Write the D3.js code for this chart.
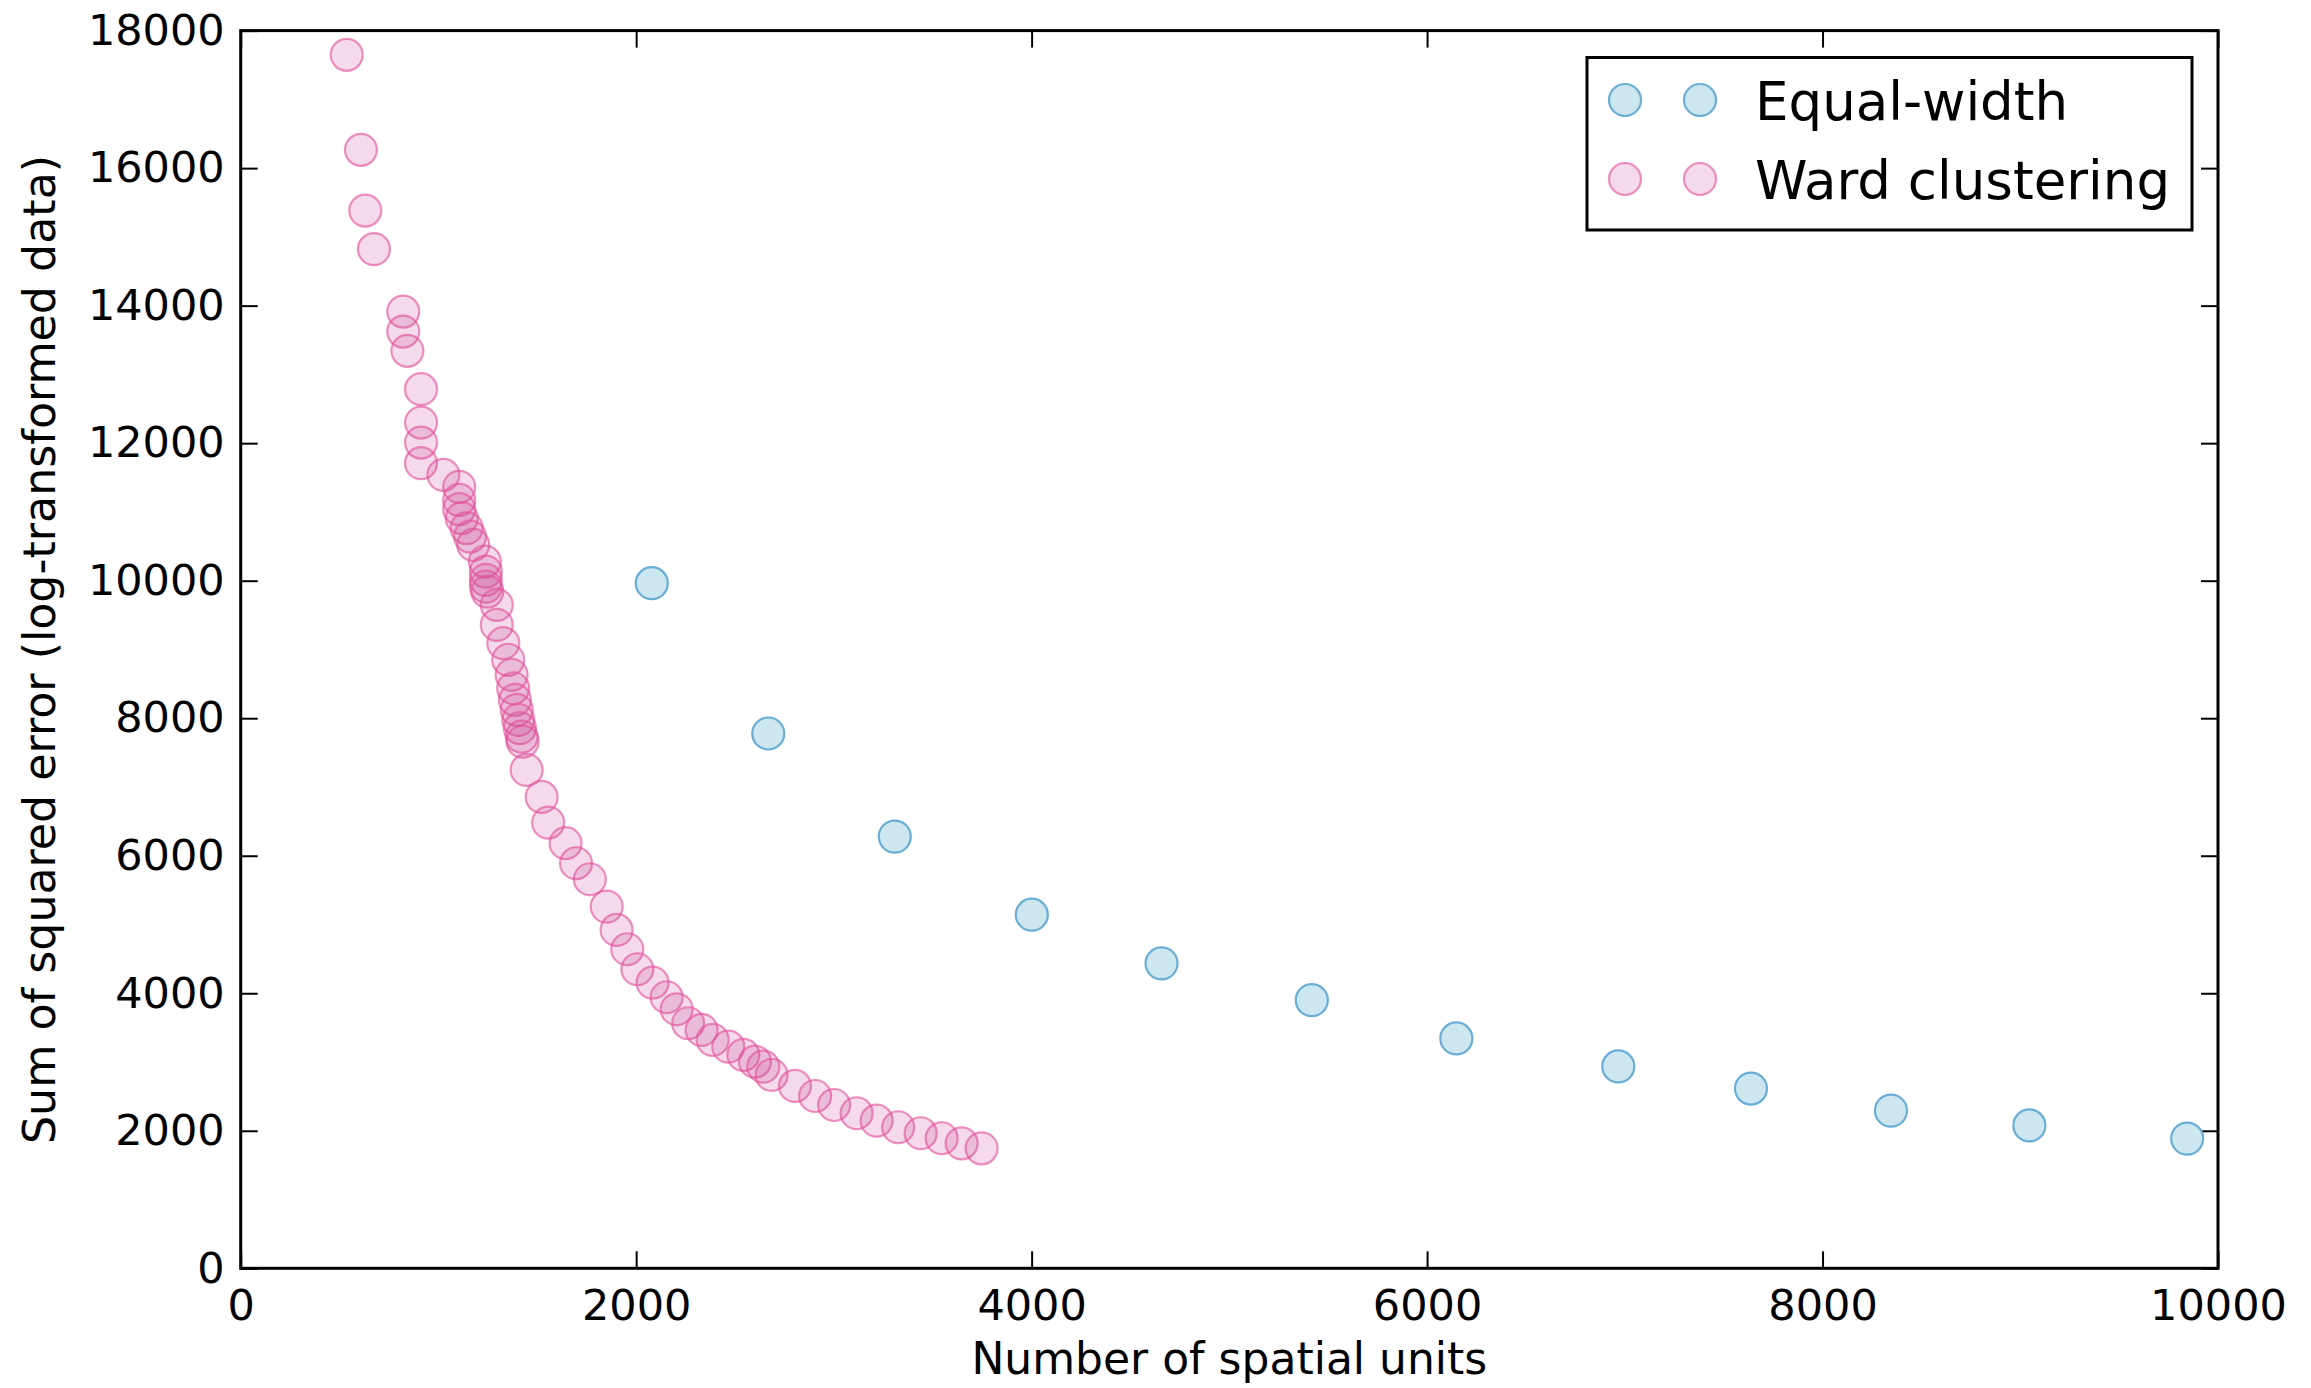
<!DOCTYPE html>
<html>
<head>
<meta charset="utf-8">
<script src="https://cdn.jsdelivr.net/npm/d3@7"></script>
<style>
  html, body { margin: 0; padding: 0; background: #fff; }
  svg { display: block; }
  text { font-family: "DejaVu Sans", sans-serif; fill: #000; }
</style>
</head>
<body>
<svg id="chart" width="2311" height="1388"></svg>
<script>
// Equal-width partitioning: number of units vs SSE
const equalUnits = [2079, 2668, 3308, 4001, 4657, 5417, 6148, 6967, 7638, 8346, 9046, 9844];
const equalSSE   = [9964, 7778, 6278, 5143, 4435, 3900, 3343, 2936, 2614, 2293, 2078, 1886];

// Ward clustering: number of units vs SSE
const wardUnits = [536, 608, 630, 674, 822, 822, 843, 912, 912, 912, 912, 1025,
  1105, 1105, 1105, 1118, 1143, 1160, 1176, 1235, 1240, 1240, 1240, 1247,
  1295, 1295, 1328, 1353, 1370, 1378, 1387, 1396, 1404, 1412, 1421, 1426,
  1446, 1522, 1555, 1643, 1696, 1766, 1851, 1901, 1955, 2006, 2083, 2154,
  2205, 2263, 2331, 2387, 2466, 2542, 2601, 2643, 2685, 2803, 2905, 3001,
  3115, 3216, 3325, 3439, 3545, 3646, 3747];
const wardSSE = [17648, 16266, 15383, 14822, 13914, 13623, 13343, 12785, 12300, 12009, 11709, 11539,
  11364, 11175, 11040, 10909, 10764, 10641, 10521, 10278, 10132, 10012, 9914, 9841,
  9648, 9357, 9091, 8848, 8630, 8436, 8266, 8121, 7975, 7855, 7732, 7660,
  7248, 6855, 6481, 6182, 5891, 5658, 5260, 4921, 4640, 4349, 4154, 3942,
  3767, 3564, 3466, 3321, 3223, 3103, 3005, 2932, 2812, 2652, 2506, 2375,
  2255, 2147, 2051, 1964, 1891, 1818, 1745];

const xTicks = [0, 2000, 4000, 6000, 8000, 10000];
const yTicks = [0, 2000, 4000, 6000, 8000, 10000, 12000, 14000, 16000, 18000];
const seriesNames = ["Equal-width", "Ward clustering"];

const styles = {
  "Equal-width":     { fill: "#cce7ef", fillOpacity: 1, stroke: "#6aaed6", strokeOpacity: 1 },
  "Ward clustering": { fill: "rgb(200,68,150)", fillOpacity: 0.2, stroke: "rgb(228,80,155)", strokeOpacity: 0.62 }
};

const margin = { left: 240.7, right: 2311 - 2218, top: 30.6, bottom: 1388 - 1268.3 };
const W = 2311, H = 1388;
const plotW = W - margin.left - margin.right;
const plotH = H - margin.top - margin.bottom;
const R = 16;

const svg = d3.select("#chart");
const g = svg.append("g").attr("transform", `translate(${margin.left},${margin.top})`);

const x = d3.scaleLinear().domain([0, 10000]).range([0, plotW]);
const y = d3.scaleLinear().domain([0, 18000]).range([plotH, 0]);

function styleAxis(sel, showLabels) {
  sel.select(".domain").remove();
  sel.selectAll(".tick line").attr("stroke", "#000").attr("stroke-width", 2);
  sel.selectAll(".tick text")
    .style("font-family", "'DejaVu Sans', sans-serif")
    .style("font-size", "43px")
    .attr("fill", "#000");
  if (!showLabels) sel.selectAll(".tick text").remove();
}

const tickLen = 17;
g.append("g").attr("transform", `translate(0,${plotH})`)
  .call(d3.axisBottom(x).tickValues(xTicks).tickFormat(d3.format("d"))
    .tickSizeInner(-tickLen).tickSizeOuter(0).tickPadding(21))
  .call(s => styleAxis(s, true));

g.append("g")
  .call(d3.axisLeft(y).tickValues(yTicks).tickFormat(d3.format("d"))
    .tickSizeInner(-tickLen).tickSizeOuter(0).tickPadding(16))
  .call(s => styleAxis(s, true));

g.append("g")
  .call(d3.axisTop(x).tickValues(xTicks).tickSizeInner(-tickLen).tickSizeOuter(0))
  .call(s => styleAxis(s, false));

g.append("g").attr("transform", `translate(${plotW},0)`)
  .call(d3.axisRight(y).tickValues(yTicks).tickSizeInner(-tickLen).tickSizeOuter(0))
  .call(s => styleAxis(s, false));

// Frame around plotting area
g.append("rect")
  .attr("x", 0).attr("y", 0).attr("width", plotW).attr("height", plotH)
  .attr("fill", "none").attr("stroke", "#000").attr("stroke-width", 3);

function drawSeries(name, xs, ys) {
  const st = styles[name];
  const data = xs.map((v, i) => ({ u: v, e: ys[i] }));
  g.append("g").selectAll("circle").data(data).join("circle")
    .attr("cx", d => x(d.u)).attr("cy", d => y(d.e)).attr("r", R)
    .attr("fill", st.fill).attr("fill-opacity", st.fillOpacity)
    .attr("stroke", st.stroke).attr("stroke-opacity", st.strokeOpacity)
    .attr("stroke-width", 2.2);
}

drawSeries("Equal-width", equalUnits, equalSSE);
drawSeries("Ward clustering", wardUnits, wardSSE);

// Axis titles
svg.append("text")
  .attr("x", margin.left + plotW / 2).attr("y", 1374)
  .attr("text-anchor", "middle").style("font-size", "44px")
  .text("Number of spatial units");

svg.append("text")
  .attr("transform", `translate(55,${margin.top + plotH / 2}) rotate(-90)`)
  .attr("text-anchor", "middle").style("font-size", "44.3px")
  .text("Sum of squared error (log-transformed data)");

// Legend
const legend = svg.append("g");
legend.append("rect")
  .attr("x", 1587).attr("y", 57.5).attr("width", 605).attr("height", 172.5)
  .attr("fill", "#fff").attr("stroke", "#000").attr("stroke-width", 3);

seriesNames.forEach((name, i) => {
  const st = styles[name];
  const cy = 100 + i * 79;
  [1625, 1700].forEach(cx => {
    legend.append("circle")
      .attr("cx", cx).attr("cy", cy).attr("r", R)
      .attr("fill", st.fill).attr("fill-opacity", st.fillOpacity)
      .attr("stroke", st.stroke).attr("stroke-opacity", st.strokeOpacity)
      .attr("stroke-width", 2.2);
  });
  legend.append("text")
    .attr("x", 1755).attr("y", cy + 20)
    .style("font-size", "53px")
    .text(name);
});
</script>
</body>
</html>
